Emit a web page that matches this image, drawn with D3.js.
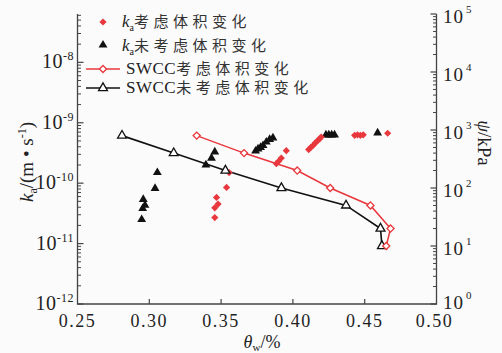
<!DOCTYPE html>
<html>
<head>
<meta charset="utf-8">
<script src="https://cdn.jsdelivr.net/npm/d3@7"></script>
<style>
  body { margin: 0; background: #fbfbfb; }
  svg text { font-family: "Liberation Serif", "DejaVu Serif", serif; fill: #222; }
  svg .cjk { font-family: "Noto Sans CJK SC", sans-serif; }
</style>
</head>
<body>
<svg width="502" height="353" font-family="Liberation Serif, DejaVu Serif, serif"></svg>
<script>
// SWCC data (theta, suction kPa)
const swccPsi = [800, 400, 200, 100, 50, 20, 10];
const swccThetaVol = [0.333, 0.366, 0.403, 0.426, 0.454, 0.468, 0.465];
const swccThetaNoVol = [0.281, 0.317, 0.353, 0.392, 0.437, 0.461, 0.462];

// ka considering volume change
const kaVolTheta = [0.3456, 0.3456, 0.3479, 0.3468, 0.3538, 0.3556, 0.3885, 0.3900, 0.3919, 0.3954,
  0.4110, 0.4125, 0.4140, 0.4155, 0.4170, 0.4185, 0.4197, 0.4430, 0.4450, 0.4470, 0.4490, 0.4660];
const kaVol = [2.7e-11, 3.9e-11, 4.5e-11, 5.8e-11, 8.5e-11, 1.5e-10, 2.1e-10, 2.3e-10, 2.6e-10, 3.45e-10,
  3.6e-10, 3.9e-10, 4.2e-10, 4.6e-10, 5.0e-10, 5.4e-10, 5.8e-10, 6.2e-10, 6.3e-10, 6.2e-10, 6.3e-10, 6.7e-10];

// ka not considering volume change
const kaNoVolTheta = [0.2947, 0.2954, 0.2970, 0.2958, 0.3040, 0.3056, 0.3394, 0.3433, 0.3456,
  0.3740, 0.3757, 0.3775, 0.3792, 0.3815, 0.3838, 0.3861, 0.4230, 0.4250, 0.4270, 0.4290, 0.4590];
const kaNoVol = [2.5e-11, 3.8e-11, 4.3e-11, 5.4e-11, 8.2e-11, 1.5e-10, 2.0e-10, 2.6e-10, 3.3e-10,
  3.4e-10, 3.7e-10, 3.9e-10, 4.2e-10, 4.8e-10, 5.3e-10, 5.6e-10, 6.3e-10, 6.3e-10, 6.3e-10, 6.3e-10, 6.8e-10];

const xTicks = [0.25, 0.30, 0.35, 0.40, 0.45, 0.50];
const kaExp = [-12, -11, -10, -9, -8];
const psiExp = [0, 1, 2, 3, 4, 5];

const red = "#e8383d";
const black = "#111";
const serif = "Liberation Serif";

let svg = d3.select("svg");
const L = 77.5, R = 436.5, T = 14, B = 304;

let x = d3.scaleLinear().domain([0.25, 0.5]).range([L, R]);
let yK = d3.scaleLog().domain([1e-12, Math.pow(10, -7.2)]).range([B, T]);
let yP = d3.scaleLog().domain([1, 1e5]).range([B, T]);

// axes frame (no top line)
svg.append("path")
  .attr("d", `M${L},${T}V${B}H${R}V${T}`)
  .attr("fill", "none").attr("stroke", "#444").attr("stroke-width", 1.3);

// x ticks
let gx = svg.append("g").attr("font-family", serif);
xTicks.slice(1, -1).forEach(function (t) {
  gx.append("line").attr("x1", x(t)).attr("x2", x(t)).attr("y1", B).attr("y2", B - 5)
    .attr("stroke", "#444").attr("stroke-width", 1.2);
});
xTicks.forEach(function (t) {
  gx.append("text").attr("x", x(t) + (t === 0.5 ? -2 : 0)).attr("y", 327).attr("text-anchor", "middle")
    .attr("font-size", 18).attr("letter-spacing", 1.5).text(d3.format(".2f")(t));
});
let xt = gx.append("text").attr("x", 262).attr("y", 348).attr("text-anchor", "middle").attr("font-size", 18);
xt.append("tspan").attr("font-style", "italic").text("θ");
xt.append("tspan").attr("font-size", 11).attr("dy", 3).text("w");
xt.append("tspan").attr("dy", -3).text("/%");

// log ticks helper
function logTicks(scale, exps, x0, dir) {
  let g = svg.append("g").attr("font-family", serif);
  exps.forEach(function (e) {
    let v = Math.pow(10, e);
    g.append("line").attr("x1", x0).attr("x2", x0 + dir * 6)
      .attr("y1", scale(v)).attr("y2", scale(v)).attr("stroke", "#444").attr("stroke-width", 1.2);
    for (let k = 2; k <= 9; k++) {
      let m = k * v;
      if (scale(m) < T) break;
      g.append("line").attr("x1", x0).attr("x2", x0 + dir * 3.5)
        .attr("y1", scale(m)).attr("y2", scale(m)).attr("stroke", "#444").attr("stroke-width", 1);
    }
  });
  return g;
}

let gl = logTicks(yK, kaExp, L, 1);
kaExp.forEach(function (e) {
  let t = gl.append("text").attr("x", 74).attr("y", yK(Math.pow(10, e)) + 6)
    .attr("text-anchor", "end").attr("font-size", 20).attr("letter-spacing", 0.5);
  t.append("tspan").text("10");
  t.append("tspan").attr("font-size", 12).attr("dy", -8).text("-" + (-e));
});

let gr = logTicks(yP, psiExp, R, -1);
psiExp.forEach(function (e) {
  let t = gr.append("text").attr("x", 443).attr("y", yP(Math.pow(10, e)) + (e === 0 ? 5 : 9))
    .attr("font-size", 19).attr("letter-spacing", 1);
  t.append("tspan").text("10");
  t.append("tspan").attr("font-size", 11).attr("dx", 2).attr("dy", -10).text(e);
});

// axis titles
let yl = svg.append("text").attr("transform", "translate(33,162) rotate(-90)")
  .attr("font-family", serif).attr("text-anchor", "middle").attr("font-size", 19);
yl.append("tspan").attr("font-style", "italic").text("k");
yl.append("tspan").attr("font-size", 12).attr("dy", 4).text("a");
yl.append("tspan").attr("dy", -4).text("/(m • s");
yl.append("tspan").attr("font-size", 12).attr("dy", -7).text("-1");
yl.append("tspan").attr("dy", 7).text(")");

let yr = svg.append("text").attr("transform", "translate(478,143) rotate(90)")
  .attr("font-family", serif).attr("text-anchor", "middle").attr("font-size", 19);
yr.append("tspan").attr("font-style", "italic").text("ψ");
yr.append("tspan").text("/kPa");

// lines
let line = d3.line();
function swccPts(th) { return th.map(function (t, i) { return [x(t), yP(swccPsi[i])]; }); }
svg.append("path").attr("d", line(swccPts(swccThetaVol))).attr("fill", "none")
  .attr("stroke", red).attr("stroke-width", 1.5);
svg.append("path").attr("d", line(swccPts(swccThetaNoVol))).attr("fill", "none")
  .attr("stroke", black).attr("stroke-width", 1.6);

let diamond = d3.symbol().type(d3.symbolSquare).size(25);
let diamondFill = d3.symbol().type(d3.symbolSquare).size(26);
let tri = d3.symbol().type(d3.symbolTriangle).size(34);
let triOpen = d3.symbol().type(d3.symbolTriangle).size(34);

// scatter ka
svg.append("g").selectAll("path").data(kaNoVolTheta).enter().append("path")
  .attr("transform", function (d, i) { return `translate(${x(d)},${yK(kaNoVol[i])})`; })
  .attr("d", tri()).attr("fill", black);
svg.append("g").selectAll("path").data(kaVolTheta).enter().append("path")
  .attr("transform", function (d, i) { return `translate(${x(d)},${yK(kaVol[i])}) rotate(45)`; })
  .attr("d", diamondFill()).attr("fill", red);

// SWCC markers
svg.append("g").selectAll("path").data(swccPts(swccThetaNoVol)).enter().append("path")
  .attr("transform", function (d) { return `translate(${d[0]},${d[1]})`; })
  .attr("d", triOpen()).attr("fill", "#fff").attr("stroke", black).attr("stroke-width", 1.3);
svg.append("g").selectAll("path").data(swccPts(swccThetaVol)).enter().append("path")
  .attr("transform", function (d) { return `translate(${d[0]},${d[1]}) rotate(45)`; })
  .attr("d", diamond()).attr("fill", "#fff").attr("stroke", red).attr("stroke-width", 1.3);

// legend
let lg = svg.append("g").attr("font-family", serif);
const legX = 103;
lg.append("path").attr("transform", `translate(${legX},22) rotate(45)`).attr("d", diamondFill()).attr("fill", red);
lg.append("path").attr("transform", `translate(${legX},45)`).attr("d", tri()).attr("fill", black);
lg.append("line").attr("x1", 86).attr("x2", 120).attr("y1", 69).attr("y2", 69).attr("stroke", red).attr("stroke-width", 1.5);
lg.append("path").attr("transform", `translate(${legX},69) rotate(45)`).attr("d", diamond())
  .attr("fill", "#fff").attr("stroke", red).attr("stroke-width", 1.3);
lg.append("line").attr("x1", 86).attr("x2", 120).attr("y1", 88).attr("y2", 88).attr("stroke", black).attr("stroke-width", 1.6);
lg.append("path").attr("transform", `translate(${legX},88)`).attr("d", triOpen())
  .attr("fill", "#fff").attr("stroke", black).attr("stroke-width", 1.3);

function kaLabel(y, cn) {
  let t = lg.append("text").attr("x", 122).attr("y", y).attr("font-size", 17);
  t.append("tspan").attr("font-style", "italic").text("k");
  t.append("tspan").attr("font-size", 10).attr("dy", 4).text("a");
  t.append("tspan").attr("class", "cjk").attr("font-size", 15).attr("dy", -4)
    .attr("letter-spacing", 4.5).attr("fill", "#333").text(cn);
}
kaLabel(27, "考虑体积变化");
kaLabel(51, "未考虑体积变化");

function swccLabel(y, cn) {
  let t = lg.append("text").attr("x", 126).attr("y", y).attr("font-size", 17);
  t.append("tspan").attr("letter-spacing", 0.5).text("SWCC");
  t.append("tspan").attr("class", "cjk").attr("font-size", 15)
    .attr("letter-spacing", 4.5).attr("fill", "#333").text(cn);
}
swccLabel(74, "考虑体积变化");
swccLabel(93, "未考虑体积变化");
</script>
</body>
</html>
